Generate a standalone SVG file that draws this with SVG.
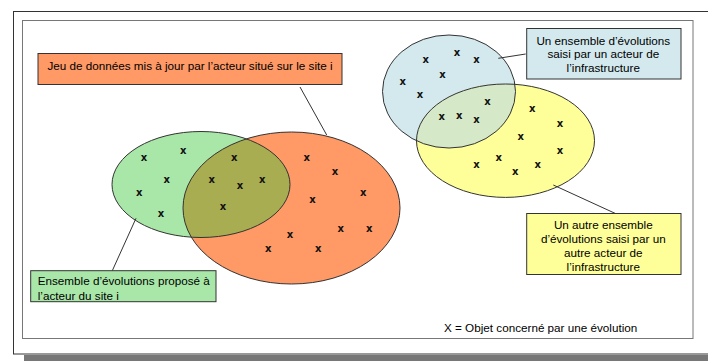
<svg xmlns="http://www.w3.org/2000/svg" width="708" height="361" viewBox="0 0 708 361">
<style>
  .lbl { font-family: "Liberation Sans", Arial, sans-serif; font-size: 11.7px; fill: #000; }
  .mid { text-anchor: middle; }
  .mk { font-family: "DejaVu Sans", sans-serif; font-size: 10px; font-weight: bold; text-anchor: middle; fill: #111; }
  .box { stroke: #333; stroke-width: 1; }
  .ell { fill: none; stroke: #333; stroke-width: 1; }
  .conn { stroke: #333; stroke-width: 1; fill: none; }
</style>
<defs>
  <clipPath id="clipOrange"><ellipse cx="291.5" cy="208" rx="108.5" ry="76"/></clipPath>
  <clipPath id="clipBlue"><ellipse cx="449" cy="91.5" rx="66.5" ry="56.5"/></clipPath>
  <clipPath id="clipGreenBox"><rect x="31" y="271" width="185" height="30.5"/></clipPath>
</defs>
<rect x="0" y="0" width="708" height="361" fill="#fff"/>
<!-- frame -->
<g id="frame">
  <rect x="24" y="355" width="700" height="10" fill="#777"/>
  <rect x="13.5" y="11.5" width="710" height="342.5" fill="#fff" stroke="#333" stroke-width="1"/>
  <rect x="22.5" y="20.5" width="670.5" height="318" fill="#fff" stroke="#777" stroke-width="1"/>
</g>
<!-- ellipses -->
<g id="green-set">
  <ellipse cx="201" cy="184.5" rx="89" ry="53" fill="#a9e7a9"/>
</g>
<g id="orange-set">
  <ellipse cx="291.5" cy="208" rx="108.5" ry="76" fill="#ff9966"/>
  <ellipse cx="201" cy="184.5" rx="89" ry="53" fill="#a8ad52" clip-path="url(#clipOrange)"/>
  <ellipse class="ell" cx="201" cy="184.5" rx="89" ry="53"/>
  <ellipse class="ell" cx="291.5" cy="208" rx="108.5" ry="76"/>
</g>
<g id="blue-set">
  <ellipse cx="449" cy="91.5" rx="66.5" ry="56.5" fill="#d3e9ee"/>
</g>
<g id="yellow-set">
  <ellipse cx="505.5" cy="140.7" rx="89" ry="56.7" fill="#ffff99"/>
  <ellipse cx="505.5" cy="140.7" rx="89" ry="56.7" fill="#d5e8c8" clip-path="url(#clipBlue)"/>
  <ellipse class="ell" cx="449" cy="91.5" rx="66.5" ry="56.5"/>
  <ellipse class="ell" cx="505.5" cy="140.7" rx="89" ry="56.7"/>
</g>
<!-- marks -->
<g id="marks">
  <text class="mk" x="144" y="161">x</text>
  <text class="mk" x="183.3" y="154.4">x</text>
  <text class="mk" x="166.7" y="182.7">x</text>
  <text class="mk" x="139.3" y="196">x</text>
  <text class="mk" x="161" y="217">x</text>
  <text class="mk" x="234.3" y="161">x</text>
  <text class="mk" x="211.7" y="182.7">x</text>
  <text class="mk" x="240" y="189.4">x</text>
  <text class="mk" x="262.3" y="182.7">x</text>
  <text class="mk" x="223" y="209.7">x</text>
  <text class="mk" x="306.7" y="161">x</text>
  <text class="mk" x="335" y="175.4">x</text>
  <text class="mk" x="363.3" y="196">x</text>
  <text class="mk" x="312.5" y="203.2">x</text>
  <text class="mk" x="340.7" y="231.6">x</text>
  <text class="mk" x="369.2" y="231.6">x</text>
  <text class="mk" x="290" y="238.2">x</text>
  <text class="mk" x="268.3" y="251.9">x</text>
  <text class="mk" x="318.3" y="251.9">x</text>

  <text class="mk" x="457" y="55.7">x</text>
  <text class="mk" x="425.7" y="63.4">x</text>
  <text class="mk" x="476.5" y="63.4">x</text>
  <text class="mk" x="442.5" y="77.7">x</text>
  <text class="mk" x="402.7" y="84.5">x</text>
  <text class="mk" x="420" y="98.4">x</text>
  <text class="mk" x="487.5" y="105">x</text>
  <text class="mk" x="441.7" y="120">x</text>
  <text class="mk" x="459.3" y="118.7">x</text>
  <text class="mk" x="476.5" y="123.4">x</text>
  <text class="mk" x="532.2" y="112">x</text>
  <text class="mk" x="560" y="126.7">x</text>
  <text class="mk" x="520.7" y="140.4">x</text>
  <text class="mk" x="560" y="154.2">x</text>
  <text class="mk" x="498.8" y="160.5">x</text>
  <text class="mk" x="476.4" y="167.9">x</text>
  <text class="mk" x="537.8" y="167.9">x</text>
  <text class="mk" x="515.2" y="175">x</text>
</g>
<!-- connectors -->
<g id="connectors">
  <line class="conn" x1="300" y1="87" x2="326.7" y2="135"/>
  <line class="conn" x1="525.7" y1="54" x2="498.3" y2="58.3"/>
  <line class="conn" x1="553.3" y1="185" x2="615" y2="213.3"/>
  <line class="conn" x1="136" y1="218.3" x2="112.3" y2="270.7"/>
</g>
<!-- labels -->
<g id="label-orange">
  <rect class="box" x="38" y="53.5" width="304" height="31" fill="#ff9966"/>
  <text class="lbl mid" x="190" y="70">Jeu de données mis à jour par l’acteur situé sur le site i</text>
</g>
<g id="label-blue">
  <rect class="box" x="526.7" y="28.5" width="154.3" height="50.5" fill="#d3e9ee"/>
  <text class="lbl mid" x="603.3" y="44.8">Un ensemble d’évolutions</text>
  <text class="lbl mid" x="603.3" y="58.2">saisi par un acteur de</text>
  <text class="lbl mid" x="603.3" y="71.6">l’infrastructure</text>
</g>
<g id="label-yellow">
  <rect class="box" x="526.7" y="213.5" width="154.3" height="61" fill="#ffff99"/>
  <text class="lbl mid" x="603.3" y="229">Un autre ensemble</text>
  <text class="lbl mid" x="603.3" y="243">d’évolutions saisi par un</text>
  <text class="lbl mid" x="603.3" y="257">autre acteur de</text>
  <text class="lbl mid" x="603.3" y="270.7">l’infrastructure</text>
</g>
<g id="label-green">
  <rect class="box" x="30.7" y="270.7" width="185.3" height="31" fill="#a9e7a9"/>
  <g clip-path="url(#clipGreenBox)">
    <text class="lbl" x="37.7" y="285.3">Ensemble d’évolutions proposé à</text>
    <text class="lbl" x="37.7" y="300.3">l’acteur du site i</text>
  </g>
</g>
<g id="legend">
  <text class="lbl" x="444" y="331.5">X = Objet concerné par une évolution</text>
</g>
</svg>
